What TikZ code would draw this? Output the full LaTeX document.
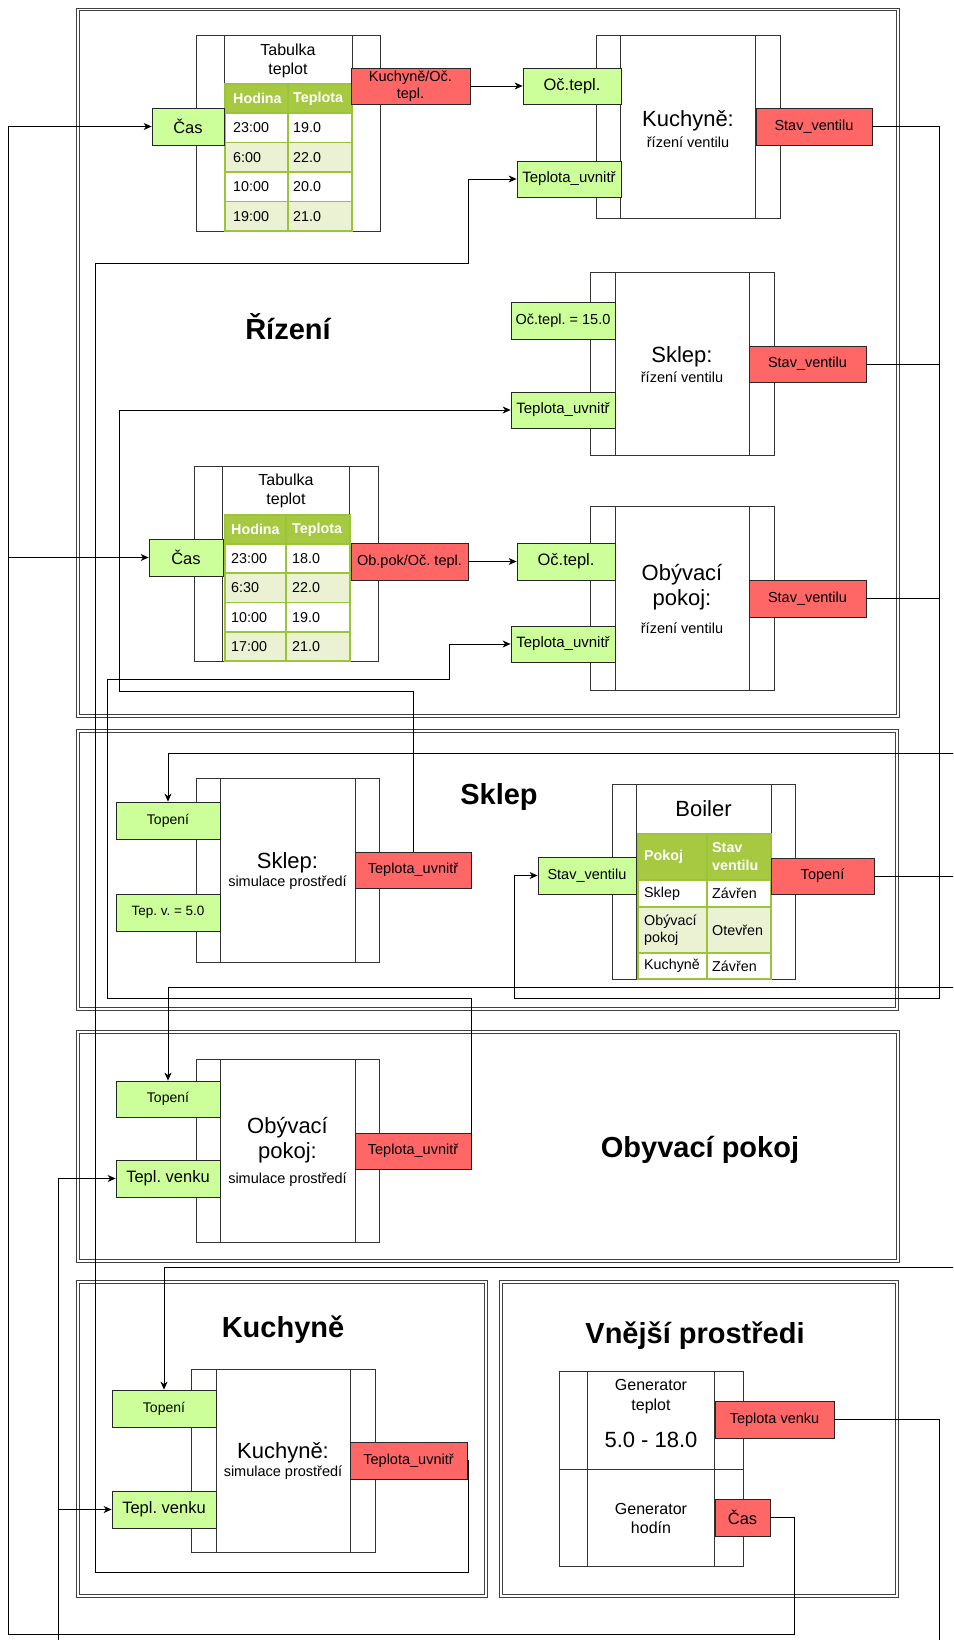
\documentclass[tikz,border=0pt]{standalone}
\usepackage{fontspec}
\setmainfont{Liberation Sans}
\usetikzlibrary{arrows.meta}

\definecolor{inGreen}{HTML}{CCFF99}
\definecolor{outRed}{HTML}{FF6666}
\definecolor{tabHead}{HTML}{A7C942}
\definecolor{tabRow}{HTML}{EAF2D3}
\definecolor{tabLine}{HTML}{9BC43A}

\tikzset{
  roomframe/.style={draw=black!75, line width=0.7pt},
  block/.style={draw=black!80, fill=white, line width=0.8pt, inner sep=0pt},
  port/.style={draw=black!85, line width=0.8pt, inner sep=0pt, align=center,
    font=\fontsize{14.5}{17}\selectfont},
  inport/.style={port, fill=inGreen},
  outport/.style={port, fill=outRed},
  bigtxt/.style={font=\fontsize{16.5}{19}\selectfont},
  btitle/.style={inner sep=0pt, align=center, font=\fontsize{22}{25}\selectfont},
  subt/.style={inner sep=0pt, align=center, font=\fontsize{14.5}{17}\selectfont},
  tabtitle/.style={inner sep=0pt, align=center, font=\fontsize{16}{18.5}\selectfont},
  heading/.style={inner sep=0pt, font=\fontsize{29}{34}\selectfont\bfseries},
  td/.style={inner sep=0pt, anchor=west, align=left, font=\fontsize{14.3}{18}\selectfont},
  th/.style={td, text=white, font=\fontsize{14.3}{18}\selectfont\bfseries},
  grid/.style={draw=tabLine, line width=1.6pt},
  bus/.style={draw=black, line width=0.8pt},
  wire/.style={bus, -{Stealth[length=8pt, width=7pt, inset=2.5pt]}},
}

% block with two side bars: name, centre, width, inner width, height
\newcommand{\sidebox}[5]{%
  \node[block, minimum width=#3, minimum height=#5] (#1) at (#2) {};
  \node[block, minimum width=#4, minimum height=#5] (#1in) at (#2) {};
}
% double lined room frame: left, top, right, bottom
\newcommand{\room}[4]{%
  \draw[roomframe] (#1-1.3,#2-1.3) rectangle (#3+1.3,#4+1.3);
  \draw[roomframe] (#1+1.3,#2+1.3) rectangle (#3-1.3,#4-1.3);
}

\begin{document}
\frenchspacing
\begin{tikzpicture}[x=1pt, y=-1pt]
  \useasboundingbox (0,0) rectangle (953,1640);
  \clip (0,0) rectangle (953,1640);

  % room frames
  \room{78}{9.5}{898}{716}
  \room{78}{731}{897}{1009}
  \room{78}{1032}{898}{1261}
  \room{78}{1282}{486}{1596}
  \room{501}{1282}{897}{1596}

  \node[heading] (hRiz) at (288,327) {Řízení};
  \node[heading] (hSklep) at (499,797) {Sklep};
  \node[heading] (hObyv) at (700,1150) {Obyvací pokoj};
  \node[heading] (hKuch) at (283,1330) {Kuchyně};
  \node[heading] (hVen) at (695,1336) {Vnější prostředi};

  % ---- Rizeni
  \sidebox{tab1}{288,133}{184}{128}{196}
  \node[tabtitle] (tab1T) at (288,61) {Tabulka\\teplot};
  \fill[tabHead] (225,84) rectangle (352,113);
  \node[th] (tab1h1) at (233,98.5) {Hodina};
  \node[th] (tab1h2) at (293,98.5) {Teplota};
  \foreach \h/\t/\c [count=\i] in {23:00/19.0/white, 6:00/22.0/tabRow, 10:00/20.0/white, 19:00/21.0/tabRow} {
    \pgfmathsetmacro\yt{113+(\i-1)*29.5}
    \fill[\c] (226,\yt) rectangle (351,\yt+29.5);
    \node[td] (tab1a\i) at (233,\yt+14.75) {\h};
    \node[td] (tab1b\i) at (293,\yt+14.75) {\t};
    \draw[grid] (225,\yt) -- (352,\yt);
  }
  \draw[grid] (225,84) rectangle (352,231) (288,84) -- (288,231);

  \node[inport, bigtxt, minimum width=72, minimum height=37] (cas1) at (188,126.5) {Čas};
  \node[outport, minimum width=119, minimum height=36] (kot) at (410.5,86) {Kuchyně/Oč.\\tepl.};

  \sidebox{kr}{688,126.5}{184}{135}{183}
  \node[btitle] (krT) at (688,121) {Kuchyně:};
  \node[subt] (krS) at (688,142) {řízení ventilu};
  \node[inport, bigtxt, minimum width=98, minimum height=36] (kocp) at (572,86) {Oč.tepl.};
  \node[inport, font=\fontsize{15}{17}\selectfont, minimum width=104, minimum height=36] (ktu) at (569,179) {Teplota\_uvnitř};
  \node[outport, minimum width=116, minimum height=37] (ksv) at (814,126.5) {Stav\_ventilu};

  \sidebox{sr}{682,363.5}{184}{134}{183}
  \node[btitle] (srT) at (682,357) {Sklep:};
  \node[subt] (srS) at (682,377) {řízení ventilu};
  \node[inport, minimum width=104, minimum height=37] (socp) at (563,320.5) {Oč.tepl. = 15.0};
  \node[inport, font=\fontsize{15}{17}\selectfont, minimum width=104, minimum height=36] (stu) at (563,410) {Teplota\_uvnitř};
  \node[outport, minimum width=117, minimum height=36] (ssv) at (807.5,364) {Stav\_ventilu};

  \sidebox{tab2}{286,563.5}{184}{127}{195}
  \node[tabtitle] (tab2T) at (286,491) {Tabulka\\teplot};
  \fill[tabHead] (225,515) rectangle (350,544);
  \node[th] (tab2h1) at (231,529.5) {Hodina};
  \node[th] (tab2h2) at (292,529.5) {Teplota};
  \foreach \h/\t/\c [count=\i] in {23:00/18.0/white, 6:30/22.0/tabRow, 10:00/19.0/white, 17:00/21.0/tabRow} {
    \pgfmathsetmacro\yt{544+(\i-1)*29.25}
    \fill[\c] (226,\yt) rectangle (349,\yt+29.25);
    \node[td] (tab2a\i) at (231,\yt+14.6) {\h};
    \node[td] (tab2b\i) at (292,\yt+14.6) {\t};
    \draw[grid] (225,\yt) -- (350,\yt);
  }
  \draw[grid] (225,515) rectangle (350,661) (286,515) -- (286,661);

  \node[inport, bigtxt, minimum width=74, minimum height=37] (cas2) at (186,557.5) {Čas};
  \node[outport, minimum width=117, minimum height=37] (oot) at (409.5,561.5) {Ob.pok/Oč. tepl.};

  \sidebox{obr}{682,598}{184}{134}{184}
  \node[btitle] (obrT) at (682,587.5) {Obývací\\pokoj:};
  \node[subt] (obrS) at (682,628) {řízení ventilu};
  \node[inport, bigtxt, minimum width=98, minimum height=37] (oocp) at (566,561.5) {Oč.tepl.};
  \node[inport, font=\fontsize{15}{17}\selectfont, minimum width=104, minimum height=36] (otu) at (563,644) {Teplota\_uvnitř};
  \node[outport, minimum width=117, minimum height=37] (osv) at (807.5,598.5) {Stav\_ventilu};

  % ---- Sklep
  \sidebox{ss}{287.5,870}{183}{135}{184}
  \node[btitle] (ssT) at (287.5,863) {Sklep:};
  \node[subt] (ssS) at (287.5,883) {simulace prostředí};
  \node[inport, font=\fontsize{14}{17}\selectfont, minimum width=104, minimum height=37] (stop) at (168,820.5) {Topení};
  \node[inport, font=\fontsize{13.5}{16}\selectfont, minimum width=104, minimum height=37] (stv) at (168,912.5) {Tep. v. = 5.0};
  \node[outport, minimum width=116, minimum height=36] (stur) at (413,870) {Teplota\_uvnitř};

  \sidebox{boil}{703.5,881.5}{183}{135}{195}
  \node[btitle] (boilT) at (703.5,809) {Boiler};
  \fill[tabHead] (638,834) rectangle (771,880);
  \fill[tabRow] (639,907) rectangle (770,953);
  \node[th] (boh1) at (644,857) {Pokoj};
  \node[th] (boh2) at (712,857) {Stav\\ventilu};
  \node[td] (boa1) at (644,893.5) {Sklep};
  \node[td] (bob1) at (712,893.5) {Závřen};
  \node[td, font=\fontsize{14.3}{17.5}\selectfont] (boa2) at (644,930) {Obývací\\pokoj};
  \node[td] (bob2) at (712,930) {Otevřen};
  \node[td] (boa3) at (644,966) {Kuchyně};
  \node[td] (bob3) at (712,966) {Závřen};
  \draw[grid] (638,834) rectangle (771,979) (707,834) -- (707,979)
    (638,880) -- (771,880) (638,907) -- (771,907) (638,953) -- (771,953);

  \node[inport, minimum width=98, minimum height=37] (bsv) at (587,875.5) {Stav\_ventilu};
  \node[outport, minimum width=103, minimum height=36] (btop) at (822.5,876) {Topení};

  % ---- Obyvaci pokoj
  \sidebox{obs}{287.5,1150.5}{183}{135}{183}
  \node[btitle] (obsT) at (287.5,1140) {Obývací\\pokoj:};
  \node[subt] (obsS) at (287.5,1180) {simulace prostředí};
  \node[inport, font=\fontsize{14}{17}\selectfont, minimum width=104, minimum height=36] (otop) at (168,1099) {Topení};
  \node[inport, bigtxt, minimum width=104, minimum height=37] (otv) at (168,1178.5) {Tepl. venku};
  \node[outport, minimum width=116, minimum height=36] (otur) at (413,1151) {Teplota\_uvnitř};

  % ---- Kuchyne
  \sidebox{ks}{283,1460.5}{184}{134}{183}
  \node[btitle] (ksT) at (283,1453) {Kuchyně:};
  \node[subt] (ksS) at (283,1473) {simulace prostředí};
  \node[inport, font=\fontsize{14}{17}\selectfont, minimum width=104, minimum height=37] (ktop) at (164,1408.5) {Topení};
  \node[inport, bigtxt, minimum width=104, minimum height=37] (ktv) at (164,1509.5) {Tepl. venku};
  \node[outport, minimum width=117, minimum height=37] (ktur) at (408.5,1460.5) {Teplota\_uvnitř};

  % ---- Vnejsi prostredi
  \sidebox{gent}{651,1420}{184}{127}{98}
  \sidebox{genh}{651,1517.5}{184}{127}{97}
  \node[tabtitle, font=\fontsize{16}{20}\selectfont] (gentT) at (651,1397) {Generator\\teplot};
  \node[btitle] (gentR) at (651,1440) {5.0 - 18.0};
  \node[tabtitle, font=\fontsize{16}{19}\selectfont] (genhT) at (651,1518.5) {Generator\\hodín};
  \node[outport, minimum width=119, minimum height=37] (gtv) at (774.5,1419.5) {Teplota venku};
  \node[outport, bigtxt, minimum width=55, minimum height=37] (gcas) at (742.5,1517.5) {Čas};

  % ---- connectors
  \draw[wire] (gcas.east) -| (794,1634) -| (8,126.5) -- (cas1.west);
  \draw[wire] (8,557.5) -- (cas2.west);
  \draw[wire] (kot.east) -- (kocp.west);
  \draw[wire] (oot.east) -- (oocp.west);
  \draw[wire] (ksv.east) -| (939,998) -| (514,875.5) -- (bsv.west);
  \draw[bus] (ssv.east) -- (939,364);
  \draw[bus] (osv.east) -- (939,598.5);
  \draw[wire] (ktur.east) -| (468,1572) -| (95,263) -| (468,179) -- (ktu.west);
  \draw[wire] (stur.north) |- (119,691) |- (stu.west);
  \draw[wire] (otur.east) |- (107,998) |- (449,679) |- (otu.west);
  \draw[bus] (btop.east) -- (965,876);
  \draw[wire] (965,753) -| (stop.north);
  \draw[wire] (965,987) -| (otop.north);
  \draw[wire] (965,1267) -| (ktop.north);
  \draw[wire] (gtv.east) -| (939,1655) -| (58,1178.5) -- (otv.west);
  \draw[wire] (58,1509.5) -- (ktv.west);
\end{tikzpicture}
\end{document}
